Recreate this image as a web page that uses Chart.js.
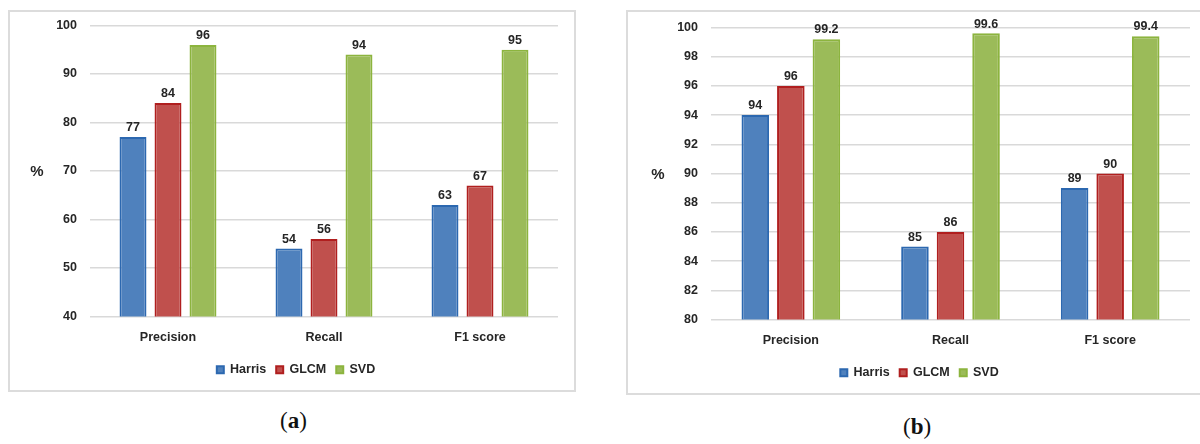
<!DOCTYPE html>
<html>
<head>
<meta charset="utf-8">
<script src="https://cdn.jsdelivr.net/npm/chart.js@4"></script>
<style>
  body { margin: 0; background: #fff; width: 1200px; height: 444px; position: relative; overflow: hidden; }
  .frame { position: absolute; border: 2px solid #dcdcdc; box-sizing: border-box; }
  .frame canvas { position: absolute; left: 0; }
  .cap { position: absolute; font-family: "Liberation Serif", serif; font-size: 23px; color: #111; }
  .cap b { font-weight: bold; }
</style>
</head>
<body>
<div class="frame" id="fa" style="left:8px; top:10px; width:568px; height:382px;"><canvas id="chartA" style="top:-7px"></canvas></div>
<div class="frame" id="fb" style="left:626px; top:10px; width:590px; height:385px;"><canvas id="chartB" style="top:-5px"></canvas></div>
<div class="cap" style="left:280px; top:408px;">(<b>a</b>)</div>
<div class="cap" style="left:903px; top:414px;">(<b>b</b>)</div>
<script>
var categories = ["Precision", "Recall", "F1 score"];
var seriesNames = ["Harris", "GLCM", "SVD"];

// chart (a)
var harrisA = [77, 54, 63];
var glcmA = [84, 56, 67];
var svdA = [96, 94, 95];
var ticksA = [40, 50, 60, 70, 80, 90, 100];

// chart (b)
var harrisB = [94, 85, 89];
var glcmB = [96, 86, 90];
var svdB = [99.2, 99.6, 99.4];
var ticksB = [80, 82, 84, 86, 88, 90, 92, 94, 96, 98, 100];

var fills = ["#4f81bd", "#c0504d", "#9bbb59"];
var borders = ["#2c68b0", "#b01f1f", "#8cb43e"];
var font = "'Liberation Sans', Arial, sans-serif";

var valueLabels = {
    id: "valueLabels",
    afterDatasetsDraw: function (chart) {
        var ctx = chart.ctx;
        ctx.save();
        ctx.font = "bold 12.5px " + font;
        ctx.fillStyle = "#262626";
        ctx.textAlign = "center";
        ctx.textBaseline = "bottom";
        chart.data.datasets.forEach(function (ds, i) {
            chart.getDatasetMeta(i).data.forEach(function (bar, j) {
                ctx.fillText(String(ds.data[j]), bar.x, bar.y - 3);
            });
        });
        ctx.restore();
    }
};

var percentLabel = {
    id: "percentLabel",
    afterDraw: function (chart) {
        var ctx = chart.ctx, a = chart.chartArea;
        ctx.save();
        ctx.font = "bold 15px " + font;
        ctx.fillStyle = "#262626";
        ctx.textAlign = "center";
        ctx.textBaseline = "middle";
        ctx.fillText("%", a.left - 53, (a.top + a.bottom) / 2 + 1);
        ctx.restore();
    }
};

function makeChart(id, w, h, h1, g1, s1, ticks, opt) {
    var canvas = document.getElementById(id);
    canvas.width = w; canvas.height = h;
    var data = [h1, g1, s1];
    var tickFont = { family: font, size: 12.5, weight: "bold" };
    return new Chart(canvas, {
        type: "bar",
        data: {
            labels: categories,
            datasets: seriesNames.map(function (name, i) {
                return {
                    label: name, data: data[i],
                    backgroundColor: fills[i], borderColor: borders[i],
                    borderWidth: 2, borderSkipped: false,
                    barPercentage: opt.barPct, categoryPercentage: opt.catPct
                };
            })
        },
        options: {
            responsive: false, animation: false, devicePixelRatio: 1,
            layout: { padding: { left: opt.padL, right: opt.padR, top: 0, bottom: opt.padB } },
            plugins: {
                legend: {
                    position: "bottom",
                    labels: { boxWidth: 7, boxHeight: 7, padding: 10, color: "#262626", font: tickFont }
                },
                tooltip: { enabled: false }
            },
            scales: {
                x: {
                    afterFit: function (axis) { axis.height = opt.xH; },
                    grid: { display: false }, border: { display: false },
                    ticks: { padding: 6, color: "#262626", font: tickFont }
                },
                y: {
                    min: ticks[0], max: ticks[ticks.length - 1],
                    afterBuildTicks: function (axis) {
                        axis.ticks = ticks.map(function (v) { return { value: v }; });
                    },
                    afterFit: function (axis) { axis.width = opt.yW; },
                    grid: { color: "#d9d9d9", lineWidth: 1.5, drawTicks: false },
                    border: { display: false },
                    ticks: { padding: 13, color: "#262626", font: tickFont }
                }
            }
        },
        plugins: [valueLabels, percentLabel]
    });
}

makeChart("chartA", 566, 387, harrisA, glcmA, svdA, ticksA,
    { barPct: 0.77, catPct: 0.673, padL: 24, padR: 18, padB: 6, yW: 56, xH: 37 });
makeChart("chartB", 588, 388, harrisB, glcmB, svdB, ticksB,
    { barPct: 0.775, catPct: 0.668, padL: 21, padR: 26, padB: 6, yW: 62, xH: 37 });
</script>
</body>
</html>
